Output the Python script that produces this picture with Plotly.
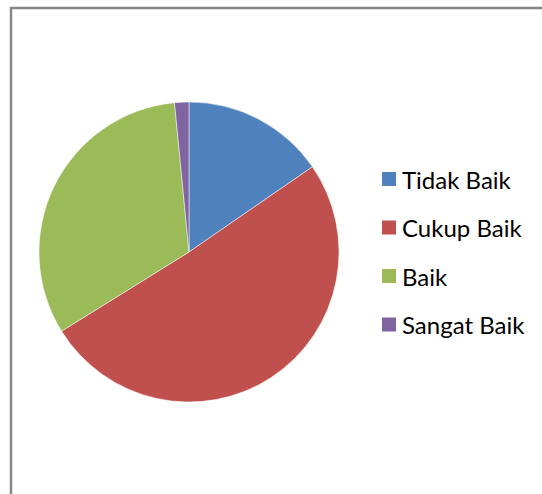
import plotly.graph_objects as go

labels = ["Tidak Baik", "Cukup Baik", "Baik", "Sangat Baik"]
values = [10, 33, 21, 1]
colors = ["#4F81BD", "#C0504D", "#9BBB59", "#8064A2"]

W, H = 542, 494

def px_x(x):
    return x / W

def px_y(y):
    return 1 - y / H

fig = go.Figure()
fig.add_trace(go.Pie(
    labels=labels,
    values=values,
    marker=dict(colors=colors, line=dict(color="white", width=0.5)),
    sort=False,
    direction="clockwise",
    rotation=0,
    textinfo="none",
    hoverinfo="label+value+percent",
    showlegend=False,
    domain=dict(x=[px_x(39), px_x(339)], y=[px_y(402), px_y(102)]),
))

shapes = [
    dict(type="line", xref="paper", yref="paper",
         x0=px_x(10), x1=px_x(545), y0=px_y(8), y1=px_y(8),
         line=dict(color="#878787", width=2.5)),
    dict(type="line", xref="paper", yref="paper",
         x0=px_x(11), x1=px_x(11), y0=px_y(7), y1=px_y(497),
         line=dict(color="#878787", width=2.5)),
]
annotations = []
y0, dy = 179, 48.5
for i, (lab, col) in enumerate(zip(labels, colors)):
    yc = y0 + i * dy
    shapes.append(dict(type="rect", xref="paper", yref="paper",
                       x0=px_x(382), x1=px_x(396), y0=px_y(yc + 7), y1=px_y(yc - 7),
                       fillcolor=col, line=dict(width=0)))
    annotations.append(dict(xref="paper", yref="paper", x=px_x(400), y=px_y(yc),
                            xanchor="left", yanchor="middle", text=lab, showarrow=False,
                            font=dict(family="Lato, Open Sans, sans-serif", size=24, color="#000000")))

fig.update_layout(
    width=W, height=H,
    margin=dict(l=0, r=0, t=0, b=0),
    paper_bgcolor="white",
    plot_bgcolor="white",
    shapes=shapes,
    annotations=annotations,
    showlegend=False,
)

fig.write_html("out.html")
